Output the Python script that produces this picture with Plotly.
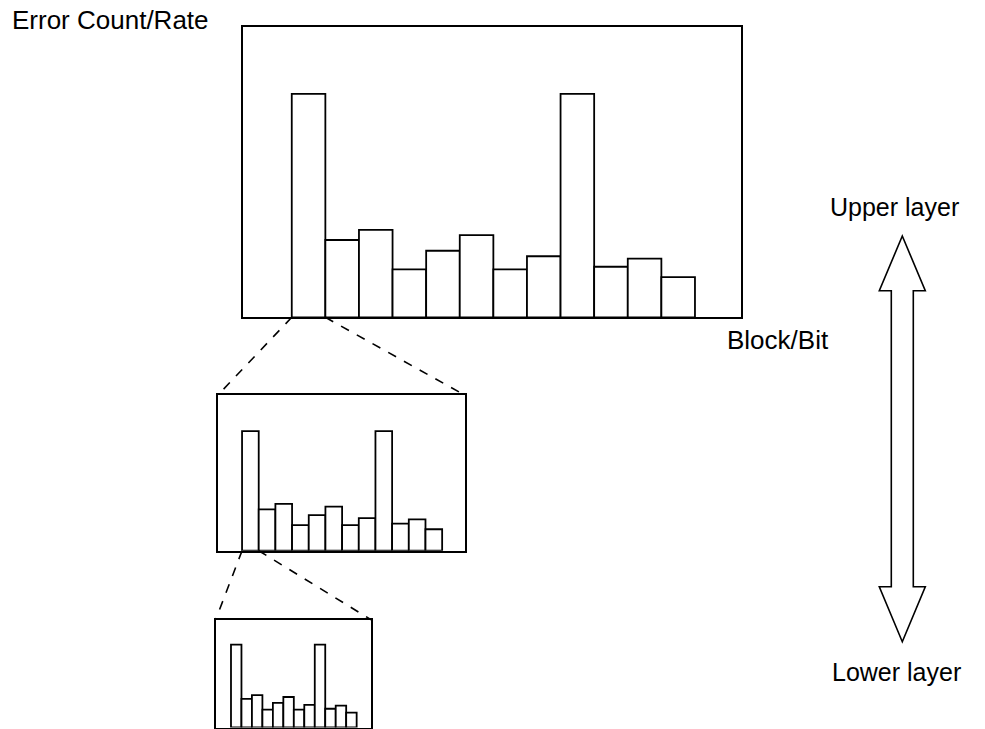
"""
Layered error count/rate diagram: block-level bars zoomed into bit-level bars.
"""

import plotly.graph_objects as go

# page body adds an 8px margin, so the figure is drawn 8px smaller and offset
PAGE_PAD = 8
W, H = 985 - PAGE_PAD, 729 - PAGE_PAD
FONT = "Liberation Sans, Arial, sans-serif"

# error count/rate per block (same profile at every layer), % of frame height
blocks = list(range(12))
error_rate = [76.9, 26.6, 30.1, 16.5, 22.9, 28.3, 16.5, 21.0, 76.9, 17.4, 20.2, 13.8]

y_title = "Error Count/Rate"
x_title = "Block/Bit"
upper_label = "Upper layer"
lower_label = "Lower layer"

X_RANGE = [-1.96, 12.87]
Y_RANGE = [0, 100]


def px_x(p):
    return (p - PAGE_PAD) / W


def px_y(p):
    return 1 - (p - PAGE_PAD) / H


# frames of the three layers, in screen pixels: left, right, top, bottom
panels = [
    dict(ax="", box=(242.7, 741.0, 26.7, 317.3)),
    dict(ax="2", box=(217.7, 465.0, 395.3, 550.7)),
    dict(ax="3", box=(215.7, 371.0, 619.7, 727.5)),
]

fig = go.Figure()
layout = dict(
    width=W, height=H,
    margin=dict(l=0, r=0, t=0, b=0),
    paper_bgcolor="white", plot_bgcolor="white",
    showlegend=False,
    font=dict(family=FONT, color="black"),
)

for p in panels:
    l, r, t, b = p["box"]
    fig.add_trace(go.Bar(
        x=blocks, y=error_rate, width=1,
        marker=dict(color="white", line=dict(color="black", width=1.8)),
        xaxis="x" + p["ax"], yaxis="y" + p["ax"],
        hoverinfo="skip",
    ))
    axis_common = dict(showgrid=False, zeroline=False, showticklabels=False,
                       ticks="", showline=True, linecolor="black", linewidth=2,
                       mirror=True, fixedrange=True)
    layout["xaxis" + p["ax"]] = dict(domain=[px_x(l), px_x(r)], range=X_RANGE,
                                     anchor="y" + p["ax"], **axis_common)
    layout["yaxis" + p["ax"]] = dict(domain=[max(px_y(b), 0), px_y(t)], range=Y_RANGE,
                                     anchor="x" + p["ax"], **axis_common)

fig.update_layout(**layout)


def to_paper(panel, xv, yv):
    l, r, t, b = panel["box"]
    xp = l + (xv - X_RANGE[0]) / (X_RANGE[1] - X_RANGE[0]) * (r - l)
    yp = b - (yv - Y_RANGE[0]) / (Y_RANGE[1] - Y_RANGE[0]) * (b - t)
    return px_x(xp), px_y(yp)


# dashed zoom lines: first bar of a layer -> frame of the next layer
for parent, child in zip(panels[:-1], panels[1:]):
    cl, cr, ct, cb = child["box"]
    for xv, cx in ((blocks[0] - 0.5, cl), (blocks[0] + 0.5, cr)):
        x0, y0 = to_paper(parent, xv, 0)
        fig.add_shape(type="line", xref="paper", yref="paper",
                      x0=x0, y0=y0, x1=px_x(cx), y1=px_y(ct),
                      line=dict(color="black", width=1.6, dash="dash"))

# double-headed hollow arrow
cx, half_head, half_shaft = 902.3, 23.0, 11.0
tip_top, base_top, base_bot, tip_bot = 236.0, 290.7, 586.7, 641.7
pts = [
    (cx, tip_top), (cx + half_head, base_top), (cx + half_shaft, base_top),
    (cx + half_shaft, base_bot), (cx + half_head, base_bot), (cx, tip_bot),
    (cx - half_head, base_bot), (cx - half_shaft, base_bot),
    (cx - half_shaft, base_top), (cx - half_head, base_top),
]
path = "M " + " L ".join(f"{px_x(a):.5f},{px_y(b):.5f}" for a, b in pts) + " Z"
fig.add_shape(type="path", xref="paper", yref="paper", path=path,
              fillcolor="white", line=dict(color="black", width=1.6))

labels = [
    (y_title, 110, 20, 26),
    (x_title, 778, 340, 26),
    (upper_label, 894, 207, 25),
    (lower_label, 896, 672, 25),
]
for text, x, y, size in labels:
    fig.add_annotation(text=text, xref="paper", yref="paper",
                       x=px_x(x), y=px_y(y), xanchor="center", yanchor="middle",
                       showarrow=False, font=dict(size=size, color="black", family=FONT))

fig.write_html("out.html")
